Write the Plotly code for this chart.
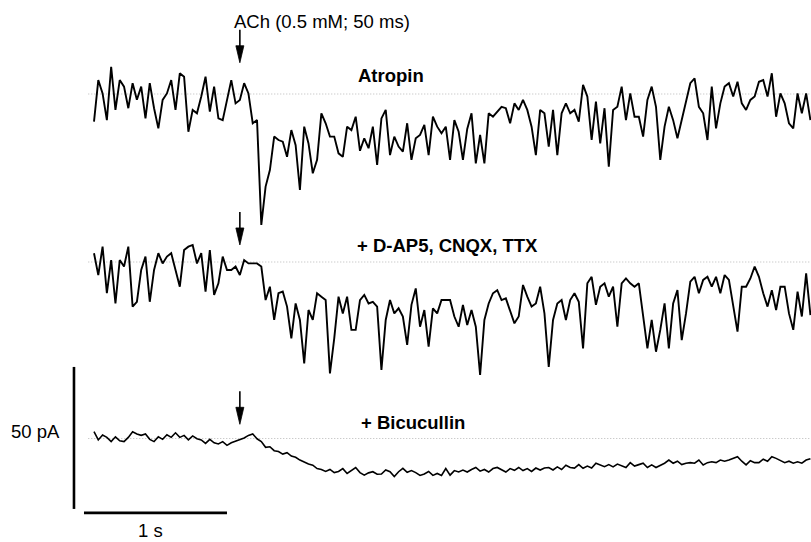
import numpy as np
import plotly.graph_objects as go

# ---------------- data ----------------
sample_interval_s = 0.03
ach_onset_s = 1.02                # ACh puff (arrows)
scale_time_s = 1.0                # horizontal scale bar
scale_current_pA = 50.0           # vertical scale bar

trace_labels = ["Atropin", "+ D-AP5, CNQX, TTX", "+ Bicucullin"]

atropin_pA = [
    -9.7, 4.9, 0.2, -9.2, 9.6, -5.6, 4.9, 2.6, -5.0, 3.8,
    -2.0, 2.6, -8.6, 3.8, -5.0, -12.1, -2.1, 0.2, 4.9, -5.6,
    7.3, 6.1, -13.3, -5.6, -6.8, -0.9, 6.1, -6.2, 2.6, -8.6,
    -9.2, -2.1, 4.9, -3.3, -2.1, 3.8, 0.2, -10.3, -9.2, -46.1,
    -32.6, -26.8, -15.0, -16.2, -16.8, -22.1, -12.7, -18.0, -33.8, -11.5,
    -17.4, -27.9, -23.2, -6.8, -10.3, -15.0, -15.0, -20.9, -22.1, -11.5,
    -12.7, -8.0, -20.0, -15.6, -19.1, -11.5, -25.0, -8.6, -5.6, -21.5,
    -15.0, -18.5, -20.3, -10.3, -23.2, -15.6, -14.4, -10.9, -21.5, -8.0,
    -11.5, -13.8, -11.5, -23.2, -9.2, -13.3, -23.2, -12.3, -6.8, -24.4,
    -14.4, -24.4, -6.8, -8.0, -6.2, -4.5, -5.0, -10.3, -3.3, -5.6,
    -2.1, -5.6, -11.5, -21.5, -5.6, -6.8, -18.5, -5.6, -21.5, -6.8,
    -3.3, -6.8, -5.6, -9.7, 3.2, -0.9, -16.2, -2.7, -17.4, -5.0,
    -25.6, -5.6, -4.5, 2.6, -9.2, 0.2, -8.0, -8.0, -15.0, -2.1,
    2.6, -4.5, -23.2, -11.5, -4.5, -9.2, -15.6, -9.2, -2.1, 3.8,
    5.5, -4.5, -6.8, -16.2, 2.6, -12.1, -3.3, 2.6, 3.8, -0.9,
    4.3, -3.3, -5.6, -2.1, -0.9, 4.3, 4.9, -0.9, 7.3, -8.0,
    0.2, -3.3, -10.3, -12.1, 0.2, -6.8, 0.2, -9.2,
]

dap5_cnqx_ttx_pA = [
    3.1, -4.6, 5.4, -11.0, 0.7, -14.6, 0.7, -1.6, 5.4, -15.7,
    -14.0, -2.8, 1.9, -14.0, -2.8, 3.1, -0.5, 1.9, 3.1, -2.8,
    -8.7, 4.2, 5.4, 6.0, -0.5, 3.1, -10.4, 4.2, -11.6, -7.5,
    1.9, -2.8, -2.8, -1.6, -4.6, 0.7, -0.5, -0.5, -0.5, -1.6,
    -13.4, -8.7, -20.4, -11.0, -10.4, -15.7, -26.9, -14.6, -20.4, -35.7,
    -16.9, -20.4, -11.0, -12.2, -13.4, -39.2, -26.9, -12.2, -18.1, -12.2,
    -23.9, -23.9, -13.4, -11.6, -14.6, -14.0, -15.7, -38.0, -20.4, -13.4,
    -18.1, -16.3, -19.2, -29.2, -15.1, -9.3, -22.8, -16.9, -29.8, -16.3,
    -18.1, -13.4, -13.4, -13.4, -19.2, -22.8, -15.1, -22.2, -16.9, -22.8,
    -39.8, -20.4, -14.6, -11.0, -9.9, -13.4, -12.8, -16.9, -21.6, -19.2,
    -8.1, -12.2, -15.7, -14.6, -8.7, -18.1, -36.9, -20.4, -14.6, -13.4,
    -20.4, -13.4, -11.0, -14.0, -30.4, -7.5, -5.2, -15.1, -8.7, -7.5,
    -12.2, -8.7, -22.8, -7.5, -5.8, -7.5, -8.7, -7.5, -19.2, -30.4,
    -20.4, -31.6, -23.9, -14.6, -30.4, -14.6, -9.9, -27.5, -18.1, -6.9,
    -5.2, -11.0, -6.3, -5.2, -8.7, -5.2, -11.0, -4.6, -6.3, -15.7,
    -24.5, -8.7, -8.7, -5.8, -1.6, -5.2, -11.0, -15.7, -9.9, -16.9,
    -8.7, -8.7, -18.1, -23.9, -10.4, -19.2, -4.0, -18.7,
]

bicucullin_pA = [
    2.4, -0.5, 1.2, 0.4, -1.1, 0.6, -0.8, -1.1, 0.4, 2.4,
    1.6, 1.1, 1.6, -0.3, -1.1, 0.6, -0.3, 1.3, 0.4, 2.0,
    0.4, 1.1, -0.5, 0.9, -0.1, -0.5, -1.7, -0.3, -1.5, -1.9,
    -1.1, -2.4, -1.5, -1.0, -0.3, 0.2, 1.1, 1.6, -0.1, -1.1,
    -3.1, -2.9, -4.3, -4.6, -5.5, -5.0, -6.2, -6.6, -7.6, -8.3,
    -9.0, -9.4, -10.6, -10.9, -11.6, -10.9, -12.0, -11.6, -10.6, -12.3,
    -11.3, -10.2, -12.0, -12.9, -12.1, -11.7, -12.6, -12.5, -11.1, -11.7,
    -13.4, -11.7, -10.5, -11.9, -11.3, -12.0, -13.0, -12.5, -11.6, -13.0,
    -12.3, -13.0, -10.6, -12.9, -11.3, -11.8, -11.1, -11.8, -10.9, -10.2,
    -11.5, -10.9, -11.8, -10.6, -10.2, -11.1, -11.8, -10.6, -11.2, -10.2,
    -11.3, -10.6, -11.6, -10.4, -11.1, -10.4, -10.2, -11.1, -10.0, -10.9,
    -9.4, -10.2, -10.4, -9.2, -10.5, -9.7, -10.4, -8.7, -9.4, -9.9,
    -9.2, -10.0, -9.0, -9.7, -10.2, -8.5, -9.7, -9.2, -8.7, -10.2,
    -9.3, -10.2, -9.4, -8.7, -7.6, -8.7, -8.0, -9.2, -8.7, -8.5,
    -8.7, -7.6, -9.3, -8.5, -8.2, -8.5, -7.6, -8.0, -7.6, -7.0,
    -6.4, -8.0, -9.3, -7.8, -8.5, -8.5, -7.3, -8.0, -6.4, -7.0,
    -7.7, -8.5, -8.0, -8.7, -8.2, -8.7, -7.6, -7.1,
]

# ---------------- layout geometry ----------------
W, H = 811, 542
PX_PER_S = 143.0
PX_PER_PA = 2.84
X0_PX = 94.0
BASELINES_PX = [94.0, 262.0, 438.5]
FONT = "Liberation Sans, Arial, Helvetica, sans-serif"
FSIZE = 18.5

t = np.arange(len(atropin_pA)) * sample_interval_s
x_range = [-X0_PX / PX_PER_S, (W - X0_PX) / PX_PER_S]


def y_range(base_px):
    return [-(H - base_px) / PX_PER_PA, base_px / PX_PER_PA]


series = [atropin_pA, dap5_cnqx_ttx_pA, bicucullin_pA]
yrefs = ["y", "y2", "y3"]
line_widths = [1.9, 1.9, 1.6]

fig = go.Figure()

for vals, yref, lw in zip(series, yrefs, line_widths):
    # dotted zero-current baseline
    fig.add_trace(go.Scatter(
        x=[-0.04, x_range[1]], y=[0, 0], mode="lines", yaxis=yref,
        line=dict(color="#b8b8b8", width=1, dash="1px,2px"),
        hoverinfo="skip", showlegend=False))
    fig.add_trace(go.Scatter(
        x=t, y=vals, mode="lines", yaxis=yref,
        line=dict(color="black", width=lw),
        showlegend=False))

# scale bars (on the bottom trace's axis)
bar_x = -0.14
bar_low = -24.8
fig.add_trace(go.Scatter(
    x=[bar_x, bar_x], y=[bar_low, bar_low + scale_current_pA], mode="lines",
    yaxis="y3", line=dict(color="black", width=2.6), showlegend=False,
    hoverinfo="skip"))
hbar_x0 = -0.07
hbar_y = -26.2
fig.add_trace(go.Scatter(
    x=[hbar_x0, hbar_x0 + scale_time_s], y=[hbar_y, hbar_y], mode="lines",
    yaxis="y3", line=dict(color="black", width=2.6), showlegend=False,
    hoverinfo="skip"))

# arrows marking the ACh application
arrow_tips_pA = [11.0, 6.0, 5.0]
shapes = []
for tip, yref in zip(arrow_tips_pA, yrefs):
    shapes.append(dict(
        type="path", xref="x", yref=yref, xsizemode="pixel", ysizemode="pixel",
        xanchor=ach_onset_s, yanchor=tip,
        path="M0,0 L-4,17 L4,17 Z",
        fillcolor="black", line=dict(color="black", width=0.8)))
    shapes.append(dict(
        type="line", xref="x", yref=yref, xsizemode="pixel", ysizemode="pixel",
        xanchor=ach_onset_s, yanchor=tip, x0=0, x1=0, y0=15, y1=33,
        line=dict(color="black", width=1.6)))

font = dict(family=FONT, size=FSIZE, color="black")
annotations = [
    dict(text="ACh (0.5 mM; 50 ms)", x=1.591, y=25.5, xref="x", yref="y",
         xanchor="center", yanchor="middle", showarrow=False, font=font),
    dict(text="<b>" + trace_labels[0] + "</b>", x=1.832, y=6.5, xref="x", yref="y",
         xanchor="left", yanchor="middle", showarrow=False, font=font),
    dict(text="<b>" + trace_labels[1] + "</b>", x=1.825, y=5.7, xref="x", yref="y2",
         xanchor="left", yanchor="middle", showarrow=False, font=font),
    dict(text="<b>" + trace_labels[2] + "</b>", x=1.853, y=5.5, xref="x", yref="y3",
         xanchor="left", yanchor="middle", showarrow=False, font=font),
    dict(text="%d pA" % scale_current_pA, x=-0.224, y=2.6, xref="x", yref="y3",
         xanchor="right", yanchor="middle", showarrow=False, font=font),
    dict(text="%d s" % scale_time_s, x=0.392, y=-32.3, xref="x", yref="y3",
         xanchor="center", yanchor="middle", showarrow=False, font=font),
]

hidden = dict(visible=False, showgrid=False, zeroline=False, fixedrange=True)
fig.update_layout(
    width=W, height=H,
    margin=dict(l=0, r=0, t=0, b=0, pad=0),
    paper_bgcolor="white", plot_bgcolor="white",
    xaxis=dict(range=x_range, **hidden),
    yaxis=dict(range=y_range(BASELINES_PX[0]), **hidden),
    yaxis2=dict(range=y_range(BASELINES_PX[1]), overlaying="y", **hidden),
    yaxis3=dict(range=y_range(BASELINES_PX[2]), overlaying="y", **hidden),
    shapes=shapes,
    annotations=annotations,
    showlegend=False,
)

fig.write_html("out.html")
